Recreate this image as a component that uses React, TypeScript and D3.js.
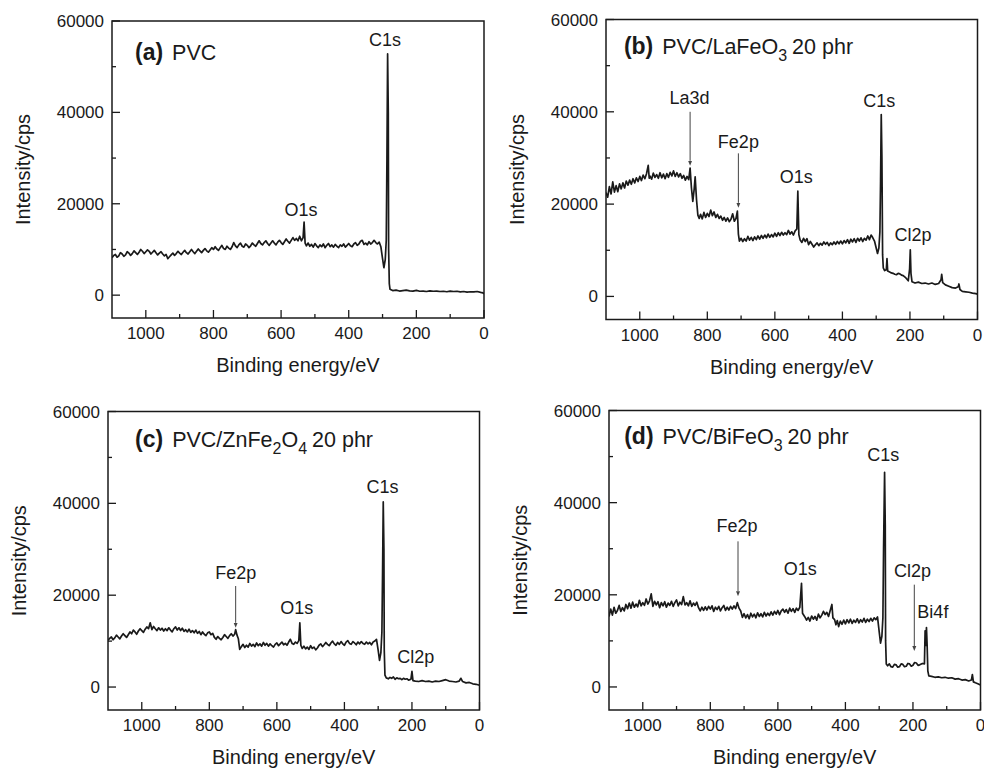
import React from "react";
import * as d3 from "d3";

type Pt = [number, number];

const xTicks = [1000, 800, 600, 400, 200, 0];
const xMinorTicks = [900, 700, 500, 300, 100];
const yTicks = [0, 20000, 40000, 60000];
const yMinorTicks = [10000, 30000, 50000];
const xTitle = "Binding energy/eV";
const yTitle = "Intensity/cps";

// (a) PVC
const spectrumA: Pt[] = [
  [1100, 8200], [1095, 8700], [1090, 8900], [1085, 8300], [1080, 8600], [1075, 9300], [1070, 9000],
  [1065, 8500], [1060, 8800], [1055, 9500], [1050, 9200], [1045, 8700], [1040, 9100], [1035, 9700],
  [1030, 9300], [1025, 8900], [1020, 9400], [1015, 10000], [1010, 9600], [1005, 9100], [1000, 9500],
  [995, 9900], [990, 9600], [985, 9000], [980, 9400], [975, 9800], [970, 9300], [965, 8800],
  [960, 9200], [955, 9500], [950, 9000], [945, 8600], [940, 8900], [935, 8000], [930, 8400],
  [925, 8800], [920, 9200], [915, 8700], [910, 9100], [905, 9600], [900, 9200], [895, 8900],
  [890, 9400], [885, 9800], [880, 9300], [875, 9000], [870, 9500], [865, 10000], [860, 9500],
  [855, 9100], [850, 9600], [845, 10100], [840, 9700], [835, 9300], [830, 9800], [825, 10200],
  [820, 9700], [815, 9400], [810, 9900], [805, 10400], [800, 10000], [795, 10600], [790, 10100],
  [785, 9800], [780, 10400], [775, 10900], [770, 10200], [765, 10000], [760, 10700], [755, 10300],
  [750, 10000], [745, 10600], [740, 11500], [735, 10800], [730, 10400], [725, 11000], [720, 11400],
  [715, 10700], [710, 10500], [705, 11200], [700, 10900], [695, 10400], [690, 10800], [685, 11400],
  [680, 11000], [675, 10700], [670, 11300], [665, 11900], [660, 11300], [655, 11000], [650, 11500],
  [645, 11900], [640, 11300], [635, 10900], [630, 11400], [625, 11900], [620, 11400], [615, 11000],
  [610, 11600], [605, 12000], [600, 11500], [595, 11100], [590, 11700], [585, 12300], [580, 11800],
  [575, 11400], [570, 12000], [565, 12600], [560, 12000], [555, 12400], [550, 11900], [545, 12900],
  [540, 11900], [535, 12600], [532, 16000], [529, 11400], [525, 10800], [520, 11400], [515, 10700],
  [510, 11100], [505, 10500], [500, 11300], [495, 10800], [490, 10400], [485, 11000], [480, 10600],
  [475, 11200], [470, 10400], [465, 10900], [460, 11300], [455, 10600], [450, 11000], [445, 10500],
  [440, 11100], [435, 10700], [430, 10400], [425, 11000], [420, 10700], [415, 11200], [410, 10500],
  [405, 10900], [400, 11300], [395, 10800], [390, 10600], [385, 11200], [380, 11500], [375, 10900],
  [370, 11200], [365, 11800], [360, 12000], [355, 11100], [350, 11400], [345, 11000], [340, 11700],
  [335, 11200], [330, 11500], [325, 12000], [320, 11500], [315, 11200], [310, 11600], [305, 10600],
  [300, 8000], [296, 6000], [292, 7800], [289, 12000], [287, 30000], [285, 52800], [283, 40000],
  [282, 10000], [280, 2500], [278, 1300], [270, 1000], [260, 1100], [250, 900], [240, 1000],
  [230, 1100], [220, 950], [210, 900], [200, 1050], [190, 850], [180, 900], [170, 800], [160, 950],
  [150, 850], [140, 900], [130, 800], [120, 850], [110, 750], [100, 900], [90, 800], [80, 850],
  [70, 700], [60, 800], [50, 650], [40, 750], [30, 700], [20, 800], [10, 600], [3, 500], [0, 300],
];

// (b) PVC/LaFeO3 20 phr
const spectrumB: Pt[] = [
  [1100, 22500], [1095, 21500], [1090, 23800], [1085, 22200], [1080, 24800], [1075, 22600],
  [1070, 24000], [1065, 22700], [1060, 24400], [1055, 23300], [1050, 24600], [1045, 23500],
  [1040, 25000], [1035, 24100], [1030, 25200], [1025, 24300], [1020, 25500], [1015, 24600],
  [1010, 25700], [1005, 24900], [1000, 26000], [995, 25100], [990, 26300], [985, 25500], [980, 26600],
  [975, 28400], [972, 25600], [970, 26100], [965, 25400], [960, 26700], [955, 25800], [950, 26400],
  [945, 25600], [940, 26800], [935, 25700], [930, 26500], [925, 25500], [920, 26600], [915, 25800],
  [910, 26900], [905, 26100], [900, 27200], [895, 26000], [890, 26800], [885, 25900], [880, 26600],
  [875, 25600], [870, 26200], [865, 25200], [860, 26000], [855, 25300], [851, 27800], [847, 23500],
  [843, 20600], [839, 23200], [836, 25900], [832, 21000], [828, 17600], [824, 16900], [820, 17800],
  [815, 16800], [810, 18200], [805, 17100], [800, 18000], [795, 17300], [790, 18700], [785, 17500],
  [780, 18300], [775, 17100], [770, 17800], [765, 16900], [760, 17400], [755, 16500], [750, 17100],
  [745, 16300], [740, 17000], [735, 16200], [730, 16700], [725, 17900], [720, 16300], [715, 16900],
  [711, 18500], [708, 13500], [705, 12000], [700, 12600], [695, 11900], [690, 12500], [685, 12000],
  [680, 13000], [675, 12200], [670, 12800], [665, 12100], [660, 12900], [655, 12300], [650, 13100],
  [645, 12400], [640, 13200], [635, 12600], [630, 13300], [625, 12700], [620, 13500], [615, 12800],
  [610, 13400], [605, 12900], [600, 13700], [595, 13000], [590, 13800], [585, 13200], [580, 13900],
  [575, 13300], [570, 13800], [565, 13400], [560, 14300], [555, 13500], [550, 14000], [545, 13300],
  [540, 14200], [535, 14600], [532, 22800], [529, 13400], [525, 12200], [520, 11700], [515, 12600],
  [510, 11900], [505, 12500], [500, 11200], [495, 11900], [490, 11300], [485, 10700], [480, 11200],
  [475, 11600], [470, 11000], [465, 11500], [460, 11100], [455, 11800], [450, 11300], [445, 11700],
  [440, 11000], [435, 11600], [430, 11200], [425, 11800], [420, 11300], [415, 11900], [410, 11400],
  [405, 12000], [400, 11400], [395, 12100], [390, 11600], [385, 12300], [380, 11500], [375, 12400],
  [370, 11800], [365, 12500], [360, 11700], [355, 12600], [350, 12000], [345, 12700], [340, 11900],
  [335, 12600], [330, 12200], [325, 13100], [320, 12300], [315, 13300], [310, 12700], [305, 12000],
  [300, 10500], [296, 9300], [292, 10500], [289, 14000], [287, 25000], [285, 39400], [283, 30000],
  [281, 9000], [279, 6200], [275, 5600], [270, 5800], [268, 8200], [266, 5500], [260, 5300],
  [255, 5100], [250, 5000], [245, 4800], [240, 4700], [235, 5000], [230, 4900], [225, 4600],
  [220, 4500], [212, 4000], [205, 3400], [201, 6000], [199, 10100], [197, 5000], [194, 3200],
  [185, 2900], [175, 3100], [165, 2800], [155, 2900], [145, 2700], [135, 2900], [125, 2600],
  [115, 2800], [108, 3600], [106, 4800], [103, 3000], [95, 2500], [85, 2200], [75, 1900],
  [65, 1800], [57, 2100], [55, 2700], [52, 1500], [45, 1100], [35, 1000], [25, 900], [15, 700],
  [5, 600], [0, 500],
];

// (c) PVC/ZnFe2O4 20 phr
const spectrumC: Pt[] = [
  [1100, 10200], [1095, 10600], [1090, 10900], [1085, 10300], [1080, 10700], [1075, 11300],
  [1070, 10900], [1065, 10500], [1060, 11100], [1055, 11600], [1050, 11200], [1045, 10800],
  [1040, 11400], [1035, 12000], [1030, 11600], [1025, 12400], [1020, 12000], [1015, 11500],
  [1010, 12200], [1005, 12700], [1000, 12300], [995, 11900], [990, 12600], [985, 13100], [980, 12700],
  [975, 14000], [970, 12500], [965, 13200], [960, 12700], [955, 12300], [950, 12900], [945, 12400],
  [940, 12800], [935, 12200], [930, 12700], [925, 12300], [920, 12900], [915, 12400], [910, 12000],
  [905, 12700], [900, 13100], [895, 12400], [890, 12900], [885, 12300], [880, 12800], [875, 12100],
  [870, 12500], [865, 12000], [860, 12600], [855, 11900], [850, 12300], [845, 11800], [840, 12400],
  [835, 11700], [830, 12100], [825, 11400], [820, 12000], [815, 11500], [810, 11200], [805, 11800],
  [800, 12000], [795, 11400], [790, 11700], [785, 10800], [780, 10400], [775, 11000], [770, 10600],
  [765, 10300], [760, 10800], [755, 11400], [750, 11000], [745, 10600], [740, 11200], [735, 11600],
  [730, 11100], [725, 11500], [722, 12500], [718, 11300], [714, 10500], [710, 8200], [705, 8800],
  [700, 9300], [695, 8600], [690, 9100], [685, 8700], [680, 9500], [675, 8900], [670, 9300],
  [665, 8800], [660, 9600], [655, 9000], [650, 9400], [645, 8900], [640, 9700], [635, 9100],
  [630, 9500], [625, 8900], [620, 9400], [615, 9000], [610, 8700], [605, 9300], [600, 9600],
  [595, 9000], [590, 9400], [585, 9800], [580, 9200], [575, 9500], [570, 9100], [565, 9800],
  [560, 10400], [555, 9500], [550, 9300], [545, 9800], [540, 9500], [535, 10100], [532, 14000],
  [529, 9100], [525, 8400], [520, 8900], [515, 8300], [510, 8700], [505, 8200], [500, 9000],
  [495, 8400], [490, 8700], [485, 8100], [480, 8500], [475, 9100], [470, 9400], [465, 8800],
  [460, 9200], [455, 9700], [450, 9300], [445, 9000], [440, 9600], [435, 10000], [430, 9400],
  [425, 9100], [420, 9700], [415, 9300], [410, 9900], [405, 9400], [400, 9100], [395, 9800],
  [390, 10100], [385, 9500], [380, 9300], [375, 9900], [370, 9600], [365, 9200], [360, 9800],
  [355, 9400], [350, 9900], [345, 9500], [340, 9300], [335, 9800], [330, 9400], [325, 9700],
  [320, 9200], [315, 9800], [310, 10000], [305, 10400], [300, 8000], [296, 5800], [292, 7500],
  [289, 12000], [287, 25000], [285, 40300], [283, 30000], [282, 8000], [280, 2600], [276, 2000],
  [270, 1800], [265, 2100], [260, 1900], [255, 2200], [250, 1700], [245, 2000], [240, 1800],
  [235, 1900], [230, 1600], [225, 1900], [220, 1700], [215, 1800], [210, 1500], [203, 1700],
  [200, 3400], [197, 1400], [190, 1300], [180, 1200], [170, 1400], [160, 1200], [150, 1300],
  [140, 1100], [130, 1300], [120, 1200], [110, 1400], [100, 1600], [90, 1300], [80, 1200],
  [70, 1100], [60, 1300], [55, 1900], [50, 1200], [40, 900], [30, 1000], [20, 700], [10, 600],
  [0, 400],
];

// (d) PVC/BiFeO3 20 phr
const spectrumD: Pt[] = [
  [1100, 15300], [1095, 16900], [1090, 15600], [1085, 17300], [1080, 16000], [1075, 16600],
  [1070, 17700], [1065, 16400], [1060, 17200], [1055, 16500], [1050, 17900], [1045, 17000],
  [1040, 18200], [1035, 17100], [1030, 18400], [1025, 17300], [1020, 18000], [1015, 17400],
  [1010, 18800], [1005, 17600], [1000, 18300], [995, 17700], [990, 19100], [985, 18000], [980, 18700],
  [975, 20200], [970, 17500], [965, 18600], [960, 17800], [955, 18500], [950, 17200], [945, 18300],
  [940, 17600], [935, 18500], [930, 17300], [925, 18200], [920, 17700], [915, 18600], [910, 17500],
  [905, 18300], [900, 18900], [895, 17600], [890, 18400], [885, 17900], [880, 19600], [875, 17800],
  [870, 18300], [865, 17600], [860, 18700], [855, 17500], [850, 18200], [845, 17700], [840, 18400],
  [835, 17200], [830, 16500], [825, 17300], [820, 16600], [815, 17400], [810, 16700], [805, 17500],
  [800, 16900], [795, 17600], [790, 16400], [785, 17300], [780, 16800], [775, 17500], [770, 16500],
  [765, 17200], [760, 17700], [755, 16600], [750, 17300], [745, 16700], [740, 17500], [735, 16900],
  [730, 17600], [725, 17000], [720, 18300], [715, 17100], [710, 16500], [705, 15100], [700, 15900],
  [695, 15000], [690, 15700], [685, 14800], [680, 16000], [675, 15200], [670, 15800], [665, 15000],
  [660, 16100], [655, 15300], [650, 15900], [645, 15200], [640, 16200], [635, 15400], [630, 16000],
  [625, 15500], [620, 16300], [615, 15600], [610, 16400], [605, 15800], [600, 16600], [595, 15700],
  [590, 16500], [585, 16900], [580, 16200], [575, 16800], [570, 16000], [565, 17100], [560, 16400],
  [555, 17000], [550, 16200], [545, 17100], [540, 16600], [535, 17300], [530, 22500], [527, 16000],
  [520, 15200], [515, 14500], [510, 15100], [505, 14300], [500, 15400], [495, 14700], [490, 15300],
  [485, 14500], [480, 15800], [475, 15000], [470, 15600], [465, 16400], [460, 15700], [455, 16200],
  [450, 15300], [445, 16600], [440, 17900], [437, 15000], [432, 14600], [428, 13500], [424, 14400],
  [420, 13100], [415, 14300], [410, 13600], [405, 14500], [400, 13700], [395, 14600], [390, 13900],
  [385, 14700], [380, 13800], [375, 14500], [370, 14000], [365, 14800], [360, 13900], [355, 14600],
  [350, 14100], [345, 14900], [340, 14000], [335, 14700], [330, 14200], [325, 14900], [320, 14300],
  [315, 15000], [310, 14600], [305, 15200], [300, 12000], [296, 9500], [292, 11000], [289, 15000],
  [287, 30000], [284, 46600], [282, 35000], [281, 10000], [279, 5000], [275, 4600], [270, 5000],
  [265, 4400], [260, 4300], [255, 4900], [250, 4800], [245, 4300], [240, 4400], [235, 5000],
  [230, 4900], [225, 4400], [220, 4500], [215, 5100], [210, 5000], [205, 4500], [200, 4700],
  [195, 5300], [190, 5200], [185, 4700], [180, 4800], [172, 5100], [166, 5000], [164, 12200],
  [162, 9000], [160, 12900], [158, 9000], [156, 3500], [153, 2400], [145, 2300], [135, 2100],
  [125, 2200], [115, 2000], [105, 2100], [95, 1900], [85, 2000], [75, 1700], [65, 1800], [55, 1500],
  [45, 1600], [35, 1300], [27, 1500], [24, 2700], [21, 1100], [15, 900], [8, 700], [0, 400],
];

type Label = { text: string; e: number; v: number };
type Arrow = { e: number; from: number; to: number };
type TitlePart = { text: string; sub?: boolean; gap?: boolean };

const titleA: TitlePart[] = [{ text: "PVC" }];
const titleB: TitlePart[] = [{ text: "PVC/LaFeO" }, { text: "3", sub: true }, { text: "20 phr", gap: true }];
const titleC: TitlePart[] = [
  { text: "PVC/ZnFe" }, { text: "2", sub: true }, { text: "O" }, { text: "4", sub: true }, { text: "20 phr", gap: true },
];
const titleD: TitlePart[] = [{ text: "PVC/BiFeO" }, { text: "3", sub: true }, { text: "20 phr", gap: true }];

const labelsA: Label[] = [
  { text: "C1s", e: 293, v: 54500 },
  { text: "O1s", e: 541, v: 17400 },
];
const labelsB: Label[] = [
  { text: "La3d", e: 853, v: 41800 },
  { text: "Fe2p", e: 708, v: 32200 },
  { text: "O1s", e: 537, v: 24600 },
  { text: "C1s", e: 291, v: 41100 },
  { text: "Cl2p", e: 191, v: 12100 },
];
const labelsC: Label[] = [
  { text: "Fe2p", e: 722, v: 23600 },
  { text: "O1s", e: 541, v: 15900 },
  { text: "C1s", e: 287, v: 42200 },
  { text: "Cl2p", e: 189, v: 5300 },
];
const labelsD: Label[] = [
  { text: "Fe2p", e: 721, v: 33600 },
  { text: "O1s", e: 534, v: 24200 },
  { text: "C1s", e: 288, v: 49000 },
  { text: "Cl2p", e: 201, v: 23800 },
  { text: "Bi4f", e: 141, v: 15000 },
];
const arrowsB: Arrow[] = [
  { e: 851, from: 40000, to: 28300 },
  { e: 708, from: 31000, to: 19200 },
];
const arrowsC: Arrow[] = [{ e: 722, from: 22000, to: 12900 }];
const arrowsD: Arrow[] = [
  { e: 718, from: 31600, to: 19700 },
  { e: 196, from: 22200, to: 7800 },
];

type Panel = {
  id: string;
  letter: string;
  data: Pt[];
  title: TitlePart[];
  titleAt: [number, number];
  labels: Label[];
  arrows: Arrow[];
  box: { left: number; top: number; right: number; bottom: number };
};

const panels: Panel[] = [
  { id: "a", letter: "(a)", data: spectrumA, title: titleA, titleAt: [1032, 51400], labels: labelsA, arrows: [],
    box: { left: 112, top: 21, right: 484, bottom: 318 } },
  { id: "b", letter: "(b)", data: spectrumB, title: titleB, titleAt: [1047, 52600], labels: labelsB, arrows: arrowsB,
    box: { left: 606, top: 19.5, right: 977.5, bottom: 319.5 } },
  { id: "c", letter: "(c)", data: spectrumC, title: titleC, titleAt: [1020, 52200], labels: labelsC, arrows: arrowsC,
    box: { left: 108, top: 411.5, right: 479.5, bottom: 710 } },
  { id: "d", letter: "(d)", data: spectrumD, title: titleD, titleAt: [1055, 52800], labels: labelsD, arrows: arrowsD,
    box: { left: 609, top: 410.5, right: 980.5, bottom: 710 } },
];

const FONT = "'Liberation Sans', Arial, Helvetica, sans-serif";
const INK = "#1a1a1a";

function PanelView({ p }: { p: Panel }) {
  const { left, top, right, bottom } = p.box;
  const x = d3.scaleLinear().domain([1100, 0]).range([left, right]);
  const y = d3.scaleLinear().domain([-5000, 60000]).range([bottom, top]);
  const line = d3
    .line<Pt>()
    .x((d) => x(d[0]))
    .y((d) => y(d[1]));
  const clipId = `clip-${p.id}`;
  const cx = (left + right) / 2;
  const cy = (top + bottom) / 2;
  return (
    <g>
      <defs>
        <clipPath id={clipId}>
          <rect x={left} y={top} width={right - left} height={bottom - top} />
        </clipPath>
      </defs>
      <path d={line(p.data) || ""} fill="none" stroke={INK} strokeWidth={1.7} strokeLinejoin="round" clipPath={`url(#${clipId})`} />
      {xTicks.map((t) => (
        <g key={`xt${t}`}>
          <line x1={x(t)} x2={x(t)} y1={bottom} y2={bottom - 8} stroke={INK} strokeWidth={1.3} />
          <text x={x(t)} y={bottom + 21} textAnchor="middle" fontSize={17} fontFamily={FONT} fill={INK}>
            {t}
          </text>
        </g>
      ))}
      {xMinorTicks.map((t) => (
        <line key={`xm${t}`} x1={x(t)} x2={x(t)} y1={bottom} y2={bottom - 4} stroke={INK} strokeWidth={1.3} />
      ))}
      {yTicks.map((t) => (
        <g key={`yt${t}`}>
          <line x1={left} x2={left + 8} y1={y(t)} y2={y(t)} stroke={INK} strokeWidth={1.3} />
          <text x={left - 8} y={y(t) + 6} textAnchor="end" fontSize={17} fontFamily={FONT} fill={INK}>
            {t}
          </text>
        </g>
      ))}
      {yMinorTicks.map((t) => (
        <line key={`ym${t}`} x1={left} x2={left + 4} y1={y(t)} y2={y(t)} stroke={INK} strokeWidth={1.3} />
      ))}
      <rect x={left} y={top} width={right - left} height={bottom - top} fill="none" stroke={INK} strokeWidth={1.5} />
      <text x={cx} y={bottom + 54} textAnchor="middle" fontSize={20} fontFamily={FONT} fill={INK}>
        {xTitle}
      </text>
      <text
        transform={`translate(${left - 82},${cy}) rotate(-90)`}
        textAnchor="middle"
        fontSize={20}
        fontFamily={FONT}
        fill={INK}
      >
        {yTitle}
      </text>
      <text x={x(p.titleAt[0])} y={y(p.titleAt[1])} fontFamily={FONT} fill={INK} fontSize={21.5}>
        <tspan fontWeight="bold" fontSize={23}>
          {p.letter}
        </tspan>
        {p.title.map((part, i) => {
          const prevSub = i > 0 && p.title[i - 1].sub;
          if (part.sub) {
            return (
              <tspan key={i} fontSize={16} dy={7}>
                {part.text}
              </tspan>
            );
          }
          return (
            <tspan key={i} dy={prevSub ? -7 : 0} dx={i === 0 ? 9 : part.gap ? 5 : 0}>
              {part.text}
            </tspan>
          );
        })}
      </text>
      {p.labels.map((l) => (
        <text key={l.text} x={x(l.e)} y={y(l.v)} textAnchor="middle" fontSize={18} fontFamily={FONT} fill={INK}>
          {l.text}
        </text>
      ))}
      {p.arrows.map((a, i) => (
        <line
          key={`ar${i}`}
          x1={x(a.e)}
          x2={x(a.e)}
          y1={y(a.from)}
          y2={y(a.to) - 5}
          stroke="#444"
          strokeWidth={1}
          markerEnd="url(#arrowhead)"
        />
      ))}
    </g>
  );
}

export default function App() {
  return (
    <svg
      width={984}
      height={770}
      viewBox="0 0 984 770"
      style={{ position: "absolute", left: 0, top: 0, background: "#fff" }}
    >
      <defs>
        <marker id="arrowhead" viewBox="0 0 10 10" refX={0} refY={5} markerWidth={5} markerHeight={5} orient="auto" markerUnits="userSpaceOnUse">
          <path d="M0,1 L10,5 L0,9 Z" fill="#444" />
        </marker>
      </defs>
      <rect width={984} height={770} fill="#fff" />
      {panels.map((p) => (
        <PanelView key={p.id} p={p} />
      ))}
    </svg>
  );
}
